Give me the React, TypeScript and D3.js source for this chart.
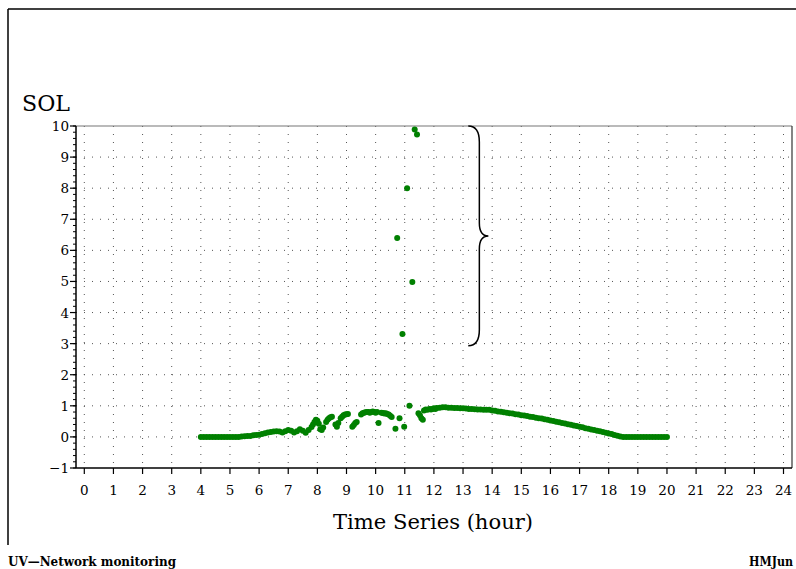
import React from "react";
import * as d3 from "d3";

const hours: number[] = [
  4.0, 4.1, 4.2, 4.3, 4.4, 4.5, 4.6, 4.7, 4.8, 4.9, 5.0, 5.1, 5.2, 5.3,
  5.4, 5.5, 5.6, 5.7, 5.8, 5.9, 6.0, 6.1, 6.2, 6.3, 6.4, 6.5, 6.6, 6.7, 6.8, 6.9,
  7.0, 7.1, 7.2, 7.3, 7.4, 7.5, 7.6, 7.7, 7.8, 7.85, 7.9, 7.95, 8.0, 8.05, 8.1, 8.15, 8.2,
  8.3, 8.35, 8.4, 8.45, 8.5,
  8.62, 8.67, 8.72, 8.8, 8.85, 8.9, 8.95, 9.0, 9.05,
  9.2, 9.25, 9.3, 9.35,
  9.5, 9.55, 9.6, 9.65, 9.7, 9.75, 9.8, 9.85, 9.9, 9.95, 10.0, 10.05,
  10.1,
  10.2, 10.25, 10.3, 10.35, 10.4, 10.45, 10.5, 10.55,
  10.68, 10.74, 10.82, 10.92, 10.98, 11.08, 11.16, 11.26, 11.34, 11.42,
  11.47, 11.52, 11.57, 11.62,
  11.66, 11.72, 11.78, 11.85, 11.9, 11.95, 12.0, 12.05, 12.1, 12.2, 12.3, 12.4, 12.5,
  12.6, 12.7, 12.8, 12.9, 13.0, 13.1, 13.2, 13.3, 13.4, 13.5, 13.6, 13.7, 13.8, 13.9,
  14.0, 14.1, 14.2, 14.3, 14.4, 14.5, 14.6, 14.7, 14.8, 14.9, 15.0, 15.1, 15.2, 15.3,
  15.4, 15.5, 15.6, 15.7, 15.8, 15.9, 16.0, 16.1, 16.2, 16.3, 16.4, 16.5, 16.6, 16.7,
  16.8, 16.9, 17.0, 17.1, 17.2, 17.3, 17.4, 17.5, 17.6, 17.7, 17.8, 17.9, 18.0, 18.1,
  18.2, 18.3, 18.4, 18.5, 18.6, 18.7, 18.8, 18.9, 19.0, 19.1, 19.2, 19.3, 19.4, 19.5,
  19.6, 19.7, 19.8, 19.9, 20.0,
];

const sol: number[] = [
  0, 0, 0, 0, 0, 0, 0, 0, 0, 0, 0, 0, 0, 0,
  0.01, 0.02, 0.03, 0.03, 0.05, 0.06, 0.07, 0.09, 0.12, 0.14, 0.16, 0.17, 0.18, 0.17, 0.14, 0.18,
  0.22, 0.2, 0.14, 0.18, 0.25, 0.2, 0.13, 0.22, 0.32, 0.4, 0.48, 0.55, 0.52, 0.42, 0.25, 0.22, 0.3,
  0.48, 0.55, 0.6, 0.63, 0.65,
  0.4, 0.33, 0.45, 0.6, 0.65, 0.7, 0.72, 0.73, 0.74,
  0.33, 0.38, 0.45, 0.48,
  0.72, 0.76, 0.78, 0.79, 0.8, 0.8, 0.78, 0.8, 0.82, 0.8, 0.78, 0.8,
  0.45,
  0.78, 0.77, 0.75, 0.76, 0.74, 0.72, 0.68, 0.64,
  0.26, 6.4, 0.6, 3.31, 0.33, 8.0, 1.0, 4.98, 9.89, 9.73,
  0.76, 0.7, 0.6, 0.55,
  0.85, 0.88, 0.87, 0.9, 0.88, 0.9, 0.92, 0.9, 0.93, 0.94, 0.95, 0.95, 0.94,
  0.94, 0.93, 0.93, 0.92, 0.92, 0.91, 0.9, 0.9, 0.89, 0.88, 0.88, 0.87, 0.87, 0.87,
  0.85, 0.84, 0.82, 0.81, 0.79, 0.78, 0.76, 0.75, 0.73, 0.72, 0.7, 0.69, 0.67, 0.65,
  0.64, 0.62, 0.6, 0.59, 0.57, 0.55, 0.53, 0.51, 0.49, 0.47, 0.45, 0.43, 0.41, 0.39,
  0.37, 0.35, 0.33, 0.31, 0.28, 0.26, 0.24, 0.22, 0.2, 0.18, 0.16, 0.13, 0.11, 0.09,
  0.06, 0.04, 0.01, 0, 0, 0, 0, 0, 0, 0, 0, 0, 0, 0,
  0, 0, 0, 0, 0,
];

const xTicks: number[] = [0, 1, 2, 3, 4, 5, 6, 7, 8, 9, 10, 11, 12, 13, 14, 15, 16, 17, 18, 19, 20, 21, 22, 23, 24];
const yTicks: number[] = [-1, 0, 1, 2, 3, 4, 5, 6, 7, 8, 9, 10];
const yMinorTicks: number[] = d3.range(-1, 10.001, 0.2);
const braceRange: number[] = [10, 2.93];
const braceX: number[] = [13.18, 13.56, 13.87];

const W = 796;
const H = 569;
const FONT = "'DejaVu Serif', serif";

export default function App() {
  const x = d3.scaleLinear().domain([0, 24]).range([84.3, 783.5]);
  const y = d3.scaleLinear().domain([-1, 10]).range([468, 126]);
  const axL = 76;
  const axR = 792;
  const axT = y(10);
  const axB = y(-1);

  const yTop = y(braceRange[0]);
  const yBot = y(braceRange[1]);
  const yMid = (yTop + yBot) / 2;
  const bx0 = x(braceX[0]);
  const bx1 = x(braceX[1]);
  const bxt = x(braceX[2]);
  const bracePath = `M${bx0},${yTop} Q${bx1},${yTop} ${bx1},${yTop + 16} L${bx1},${yMid - 13} Q${bx1},${yMid} ${bxt},${yMid} Q${bx1},${yMid} ${bx1},${yMid + 13} L${bx1},${yBot - 16} Q${bx1},${yBot} ${bx0},${yBot}`;

  const pts = hours.map((h, i) => ({ h, v: sol[i] }));
  const tf = { fontFamily: FONT };

  return (
    <svg
      width={W}
      height={H}
      style={{ position: "absolute", left: 0, top: 0, background: "#fff", fontFamily: FONT }}
    >
      <rect x={0} y={0} width={W} height={H} fill="#fff" />
      {/* outer frame */}
      <line x1={8} y1={9} x2={W} y2={9} stroke="#000" strokeWidth={1.5} />
      <line x1={8} y1={9} x2={8} y2={545} stroke="#000" strokeWidth={1.5} />

      {/* grid */}
      <g stroke="#555" strokeWidth={1} strokeDasharray="1,7">
        {xTicks.map((t) => (
          <line key={"gx" + t} x1={x(t)} x2={x(t)} y1={axT} y2={axB} />
        ))}
        {yTicks.filter((t) => t > -1 && t < 10).map((t) => (
          <line key={"gy" + t} x1={axL} x2={axR} y1={y(t)} y2={y(t)} />
        ))}
      </g>

      {/* plot frame */}
      <line x1={axL} x2={axR} y1={axT} y2={axT} stroke="#777" strokeWidth={1.2} />
      <line x1={axR} x2={axR} y1={axT} y2={axB} stroke="#333" strokeWidth={1.2} />
      <line x1={axL} x2={axL} y1={axT} y2={axB} stroke="#000" strokeWidth={1.5} />
      <line x1={axL} x2={axR} y1={axB} y2={axB} stroke="#000" strokeWidth={1.5} />

      {/* y ticks */}
      {yMinorTicks.map((t, i) => (
        <line key={"ym" + i} x1={axL - 3} x2={axL} y1={y(t)} y2={y(t)} stroke="#000" strokeWidth={1} />
      ))}
      {yTicks.map((t) => (
        <g key={"yt" + t}>
          <line x1={axL - 6} x2={axL} y1={y(t)} y2={y(t)} stroke="#000" strokeWidth={1.2} />
          <text x={69} y={y(t) + 5} textAnchor="end" fontSize={13.5} fill="#000" style={tf}>
            {t < 0 ? "\u2212" + Math.abs(t) : String(t)}
          </text>
        </g>
      ))}

      {/* x ticks */}
      {xTicks.map((t) => (
        <g key={"xt" + t}>
          <line x1={x(t)} x2={x(t)} y1={axB} y2={axB + 6} stroke="#000" strokeWidth={1.2} />
          <text x={x(t)} y={495} textAnchor="middle" fontSize={13.5} fill="#000" style={tf}>
            {String(t)}
          </text>
        </g>
      ))}

      {/* data */}
      <g fill="#008000">
        {pts.map((p, i) => (
          <circle key={"p" + i} cx={x(p.h)} cy={y(p.v)} r={3} />
        ))}
      </g>

      {/* brace */}
      <path d={bracePath} fill="none" stroke="#000" strokeWidth={1.5} />

      {/* labels */}
      <text x={22} y={111} fontSize={22} textLength={48} lengthAdjust="spacingAndGlyphs" fill="#000" style={tf}>SOL</text>
      <text x={433} y={529} textAnchor="middle" fontSize={21} textLength={200} lengthAdjust="spacingAndGlyphs" fill="#000" style={tf}>
        Time Series (hour)
      </text>
      <text x={8} y={566} fontSize={12} fontWeight="bold" textLength={168} lengthAdjust="spacingAndGlyphs" fill="#000" style={tf}>
        UV—Network monitoring
      </text>
      <text x={793} y={566} textAnchor="end" fontSize={12} fontWeight="bold" textLength={44} lengthAdjust="spacingAndGlyphs" fill="#000" style={tf}>
        HMJun
      </text>
    </svg>
  );
}
